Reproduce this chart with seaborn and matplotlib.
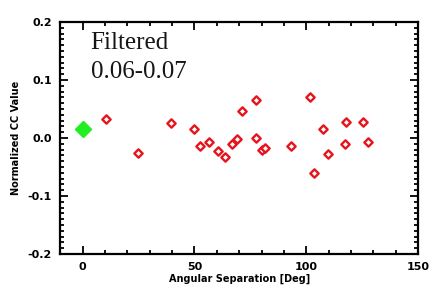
import numpy as np
import pandas as pd
import matplotlib
matplotlib.use("Agg")
import matplotlib.pyplot as plt
import seaborn as sns
from matplotlib.ticker import MultipleLocator

# reference point at zero separation
ref_sep = [0.0]
ref_cc = [0.015]

# separation (deg) and normalized CC value for the other pairs
sep = [10.4, 24.9, 39.6, 49.9, 52.5, 56.4, 60.6, 63.7, 66.7, 69.1, 71.3,
       77.5, 77.6, 80.1, 81.6, 93.0, 101.5, 103.3, 107.5, 109.7, 117.2,
       117.9, 125.5, 127.8]
cc = [0.033, -0.025, 0.026, 0.015, -0.014, -0.007, -0.022, -0.032, -0.010,
      -0.002, 0.046, 0.065, 0.000, -0.021, -0.018, -0.014, 0.071, -0.060,
      0.015, -0.027, -0.011, 0.027, 0.027, -0.006]

df = pd.DataFrame({'sep': sep, 'cc': cc})
ref = pd.DataFrame({'sep': ref_sep, 'cc': ref_cc})

sns.set_style('ticks', {'axes.edgecolor': 'black', 'xtick.color': 'black',
                        'ytick.color': 'black', 'text.color': 'black',
                        'axes.labelcolor': 'black'})
plt.rcParams['font.family'] = ['DejaVu Sans']

fig = plt.figure(figsize=(4.36, 2.94), dpi=100)
ax = fig.add_axes([0.138, 0.136, 0.821, 0.789])

sns.scatterplot(data=df, x='sep', y='cc', ax=ax, marker='D', s=18,
                facecolor='white', edgecolor='#e8141c', linewidth=1.7)
sns.scatterplot(data=ref, x='sep', y='cc', ax=ax, marker='D', s=60,
                color='#22ee22', edgecolor='#22ee22', linewidth=1.5)

ax.set_xlim(-10, 150)
ax.set_ylim(-0.2, 0.2)
ax.xaxis.set_major_locator(MultipleLocator(50))
ax.xaxis.set_minor_locator(MultipleLocator(10))
ax.yaxis.set_major_locator(MultipleLocator(0.1))
ax.yaxis.set_minor_locator(MultipleLocator(0.01))
ax.yaxis.set_major_formatter(plt.FuncFormatter(lambda v, p: f"{v:.1f}".replace('-0.0', '0.0')))

ax.tick_params(which='both', direction='in', top=True, right=True, width=1.3)
ax.tick_params(which='major', length=6, labelsize=8, pad=6)
ax.tick_params(which='minor', length=3)
for lbl in ax.get_xticklabels() + ax.get_yticklabels():
    lbl.set_fontweight('bold')
for s in ax.spines.values():
    s.set_linewidth(1.6)

ax.set_xlabel('Angular Separation [Deg]', fontsize=7, fontweight='bold', labelpad=1)
ax.set_ylabel('Normalized CC Value', fontsize=7, fontweight='bold', labelpad=5)

ax.text(0.085, 0.955, 'Filtered\n0.06-0.07', transform=ax.transAxes,
        va='top', ha='left', fontsize=18, family='Liberation Serif',
        linespacing=1.4, color='#151515')

fig.savefig('out.png', dpi=100)
